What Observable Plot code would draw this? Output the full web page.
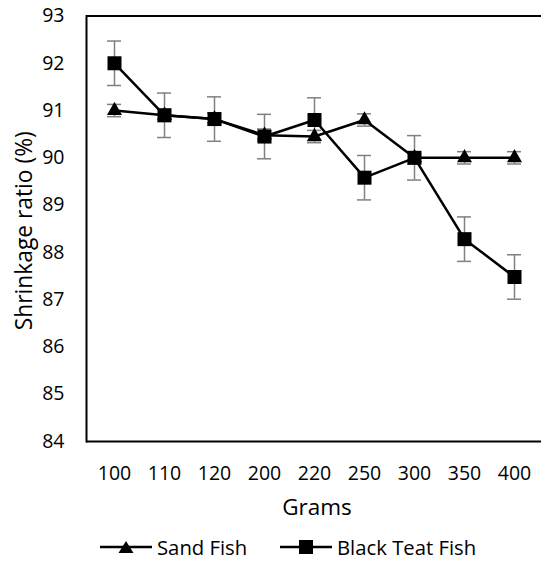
<!DOCTYPE html>
<html>
<head>
<meta charset="utf-8">
<script src="https://cdn.jsdelivr.net/npm/d3@7"></script>
<script src="https://cdn.jsdelivr.net/npm/@observablehq/plot@0.6"></script>
<style>
  html, body { margin: 0; padding: 0; background: #fff; overflow: hidden; }
  #chart { width: 541px; }
  .legend { position: relative; height: 30px; font-family: "Open Sans", sans-serif; font-size: 20.3px; color: #000; }
  .item { position: absolute; top: 0; height: 30px; display: flex; align-items: center; }
  .item svg { margin-right: 5px; }
</style>
</head>
<body>
<div id="chart"></div>
<script>
const grams = ["100", "110", "120", "200", "220", "250", "300", "350", "400"];
const sandFish = [91.0, 90.9, 90.82, 90.48, 90.45, 90.8, 90.0, 90.0, 90.0];
const sandFishErr = [0.13, 0.13, 0.13, 0.13, 0.13, 0.13, 0.13, 0.13, 0.13];
const blackTeat = [92.0, 90.9, 90.82, 90.45, 90.8, 89.58, 90.0, 88.28, 87.48];
const blackTeatErr = [0.47, 0.47, 0.47, 0.47, 0.47, 0.47, 0.47, 0.47, 0.47];
const yTicks = [84, 85, 86, 87, 88, 89, 90, 91, 92, 93];
const seriesNames = ["Sand Fish", "Black Teat Fish"];

const sand = grams.map((g, i) => ({g, v: sandFish[i], e: sandFishErr[i]}));
const black = grams.map((g, i) => ({g, v: blackTeat[i], e: blackTeatErr[i]}));
const errColor = "#808080";
const font = "'Open Sans', sans-serif";

const errMarks = (data) => [
  Plot.ruleX(data, {x: "g", y1: d => d.v - d.e, y2: d => d.v + d.e, stroke: errColor, strokeWidth: 1.5}),
  Plot.ruleY(data, {x1: "g", x2: "g", y: d => d.v + d.e, insetLeft: -7, insetRight: -7, stroke: errColor, strokeWidth: 1.5}),
  Plot.ruleY(data, {x1: "g", x2: "g", y: d => d.v - d.e, insetLeft: -7, insetRight: -7, stroke: errColor, strokeWidth: 1.5})
];

const plot = Plot.plot({
  width: 541,
  height: 532,
  marginLeft: 86,
  marginRight: 0,
  marginTop: 15.5,
  marginBottom: 91,
  style: {fontFamily: font, fontSize: "19.5px", color: "#000", background: "#fff"},
  x: {type: "point", domain: grams, padding: 0.5, label: null},
  y: {domain: [84, 93], label: null},
  marks: [
    Plot.frame({anchor: "left", stroke: "#000", strokeWidth: 2}),
    Plot.ruleY([84, 93], {stroke: "#000", strokeWidth: 2}),
    Plot.axisY({ticks: yTicks, tickSize: 0, tickPadding: 22, tickFormat: d => String(d), fontSize: 19.5, label: null}),
    Plot.axisX({tickSize: 0, tickPadding: 25, fontSize: 19.5, label: null}),
    Plot.text(["Shrinkage ratio (%)"], {frameAnchor: "left", textAnchor: "middle", rotate: -90, dx: -62, dy: 2, fontSize: 22.8, fill: "#000"}),
    Plot.text(["Grams"], {frameAnchor: "bottom", dy: 73, dx: 3, fontSize: 22.5, fill: "#000"}),
    ...errMarks(sand),
    ...errMarks(black),
    Plot.line(sand, {x: "g", y: "v", stroke: "#000", strokeWidth: 2.5}),
    Plot.line(black, {x: "g", y: "v", stroke: "#000", strokeWidth: 2.5}),
    Plot.dot(sand, {x: "g", y: "v", symbol: "triangle", r: 5.6, fill: "#000", stroke: "none"}),
    Plot.dot(black, {x: "g", y: "v", symbol: "square", r: 7.9, fill: "#000", stroke: "none"})
  ]
});
document.getElementById("chart").appendChild(plot);

const legend = document.createElement("div");
legend.className = "legend";
const items = [
  {name: seriesNames[0], left: 100, path: "M26,2 L33.5,14 L18.5,14 Z"},
  {name: seriesNames[1], left: 280, path: "M19,1 H33 V15 H19 Z"}
];
items.forEach(it => {
  const div = document.createElement("div");
  div.className = "item";
  div.style.left = it.left + "px";
  div.innerHTML = `<svg width="52" height="16" viewBox="0 0 52 16"><line x1="0" y1="8" x2="52" y2="8" stroke="#000" stroke-width="2.5"/><path d="${it.path}" fill="#000"/></svg><span>${it.name}</span>`;
  legend.appendChild(div);
});
document.getElementById("chart").appendChild(legend);
</script>
</body>
</html>
